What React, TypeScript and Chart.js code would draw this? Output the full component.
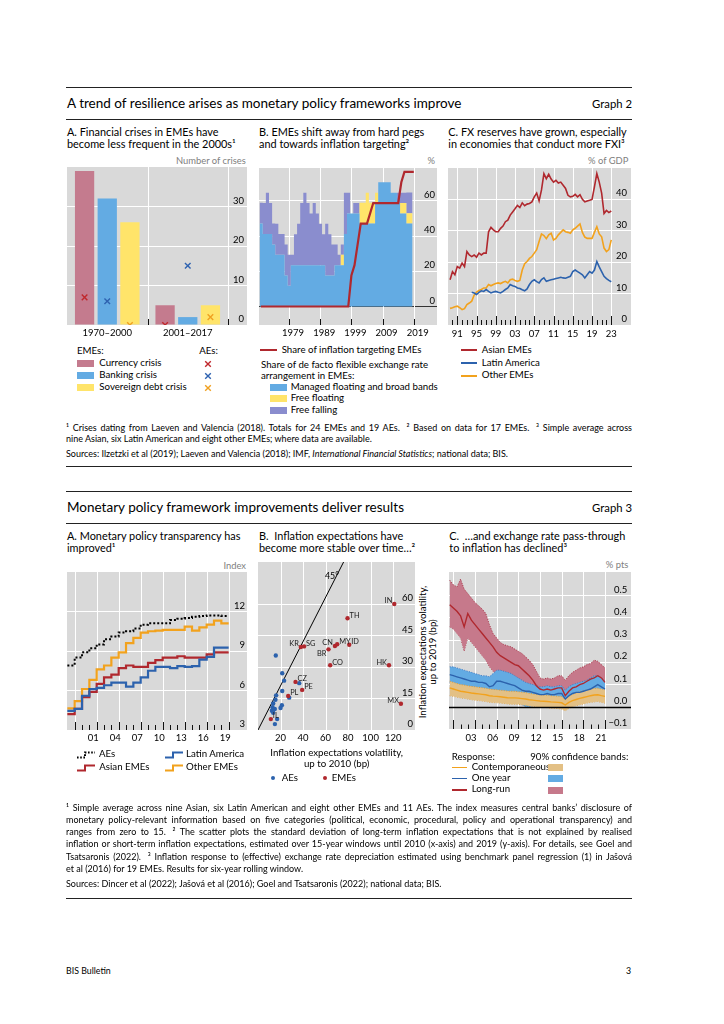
import React, { useEffect, useRef } from 'react';
import { Chart, registerables } from 'chart.js';

Chart.register(...registerables);

const FONT = 'Lato, "Noto Sans", sans-serif';
Chart.defaults.font.family = FONT;
const TICK_FONT = { family: FONT, size: 9.5, lineHeight: 1.2 };

const C_BG = '#d9d9d9';
const C_RED = '#b0282e';
const C_BLUE = '#2c62ad';
const C_ORANGE = '#f2a21d';
const C_PINK = '#c47b8e';
const C_LBLUE = '#63abe3';
const C_YELLOW = '#ffe46a';
const C_PURPLE = '#8a8dce';
const C_TAN = '#e3c085';
const C_BAND_RED = '#c6798b';
const CLEAR = 'rgba(0,0,0,0)';

// ---------------- Graph 2, panel A ----------------
const crisisPeriods = ['1970–2000', '2001–2017'];
const emeCurrency = [39, 5];
const emeBanking = [32, 2];
const emeSovereign = [26, 5];
const aeCurrency = [7, 0];
const aeBanking = [6, 15];
const aeSovereign = [0, 2];
const crisisTicks = [0, 10, 20, 30];

// ---------------- Graph 2, panel B ----------------
const regimeYears = [1970, 1971, 1972, 1973, 1974, 1975, 1976, 1977, 1978, 1979, 1980, 1981, 1982, 1983, 1984, 1985, 1986, 1987, 1988, 1989, 1990, 1991, 1992, 1993, 1994, 1995, 1996, 1997, 1998, 1999, 2000, 2001, 2002, 2003, 2004, 2005, 2006, 2007, 2008, 2009, 2010, 2011, 2012, 2013, 2014, 2015, 2016, 2017, 2018];
const managedFloating = [47.1, 41.2, 41.2, 41.2, 35.3, 29.4, 29.4, 29.4, 17.6, 11.8, 23.5, 23.5, 23.5, 23.5, 23.5, 23.5, 23.5, 23.5, 23.5, 23.5, 23.5, 17.6, 17.6, 17.6, 23.5, 23.5, 23.5, 41.2, 52.9, 52.9, 52.9, 52.9, 47.1, 47.1, 47.1, 47.1, 47.1, 58.8, 70.6, 70.6, 70.6, 70.6, 64.7, 64.7, 58.8, 52.9, 52.9, 47.1, 47.1];
const freeFloating = [0, 0, 0, 0, 0, 0, 0, 0, 0, 0, 0, 0, 0, 0, 0, 0, 0, 0, 0, 0, 0, 0, 0, 0, 0, 0, 5.9, 0, 0, 0, 0, 0, 11.8, 11.8, 17.6, 11.8, 11.8, 5.9, 0, 0, 0, 0, 0, 0, 0, 5.9, 5.9, 5.9, 5.9];
const freeFalling = [11.8, 17.6, 23.5, 17.6, 11.8, 17.6, 11.8, 11.8, 17.6, 17.6, 5.9, 17.6, 23.5, 35.3, 41.2, 35.3, 29.4, 35.3, 29.4, 23.5, 17.6, 29.4, 23.5, 17.6, 11.8, 5.9, 5.9, 23.5, 11.8, 0, 5.9, 5.9, 0, 0, 0, 0, 0, 0, 0, 0, 0, 0, 0, 0, 5.9, 5.9, 5.9, 11.8, 11.8];
const itYears = [1970, 1971, 1972, 1973, 1974, 1975, 1976, 1977, 1978, 1979, 1980, 1981, 1982, 1983, 1984, 1985, 1986, 1987, 1988, 1989, 1990, 1991, 1992, 1993, 1994, 1995, 1996, 1997, 1998, 1999, 2000, 2001, 2002, 2003, 2004, 2005, 2006, 2007, 2008, 2009, 2010, 2011, 2012, 2013, 2014, 2015, 2016, 2017, 2018, 2019];
const itShare = [0, 0, 0, 0, 0, 0, 0, 0, 0, 0, 0, 0, 0, 0, 0, 0, 0, 0, 0, 0, 0, 0, 0, 0, 0, 0, 0, 0, 0, 17.6, 23.5, 35.3, 47.1, 47.1, 47.1, 52.9, 58.8, 58.8, 58.8, 58.8, 58.8, 58.8, 58.8, 58.8, 58.8, 70.6, 76.5, 76.5, 76.5, 76.5];
const regimeTickYears = [1979, 1989, 1999, 2009, 2019];
const regimeTickLabels = ['1979', '1989', '1999', '2009', '2019'];
const pctTicks = [0, 20, 40, 60];

// ---------------- Graph 2, panel C ----------------
const fxDates = [1989.5, 1990, 1990.5, 1991, 1991.5, 1992, 1992.5, 1993, 1993.5, 1994, 1994.5, 1995, 1995.5, 1996, 1996.5, 1997, 1997.5, 1998, 1998.5, 1999, 1999.5, 2000, 2000.5, 2001, 2001.5, 2002, 2002.5, 2003, 2003.5, 2004, 2004.5, 2005, 2005.5, 2006, 2006.5, 2007, 2007.5, 2008, 2008.5, 2009, 2009.5, 2010, 2010.5, 2011, 2011.5, 2012, 2012.5, 2013, 2013.5, 2014, 2014.5, 2015, 2015.5, 2016, 2016.5, 2017, 2017.5, 2018, 2018.5, 2019, 2019.5, 2020, 2020.5, 2021, 2021.5, 2022, 2022.5, 2023];
const asianEMEs = [14.4, 17.0, 16.0, 18.6, 18.1, 19.7, 18.6, 23.4, 22.3, 21.8, 22.3, 21.6, 22.9, 22.3, 22.9, 22.9, 29.7, 31.1, 30.3, 29.7, 29.7, 30.8, 31.5, 32.9, 33.4, 35.0, 36.0, 37.0, 38.1, 37.4, 38.9, 38.0, 38.5, 38.7, 39.2, 40.8, 42.0, 39.5, 43.0, 48.2, 46.6, 48.0, 46.5, 45.5, 46.1, 45.2, 45.5, 44.5, 43.5, 41.3, 40.8, 41.0, 41.6, 40.8, 41.5, 40.0, 39.2, 39.5, 39.7, 40.0, 44.0, 48.2, 45.5, 42.0, 35.5, 36.5, 35.8, 36.3];
const latinAmerica = [null, null, null, null, null, null, null, null, null, 10.4, 10.2, 9.7, 10.4, 10.9, 10.7, 11.3, 10.7, 10.2, 10.5, 10.7, 10.4, 10.2, 10.7, 11.3, 11.8, 12.9, 12.5, 12.3, 11.8, 11.6, 11.2, 10.9, 11.5, 12.9, 13.9, 14.4, 13.8, 13.4, 14.5, 15.0, 13.9, 14.2, 14.4, 14.6, 14.8, 15.0, 15.2, 15.0, 14.9, 15.2, 15.5, 17.0, 17.5, 17.0, 16.5, 16.0, 15.0, 16.0, 17.0, 16.5, 17.5, 20.2, 18.5, 17.0, 15.5, 14.8, 14.2, 13.8];
const otherEMEs = [5.3, 5.5, 5.8, 6.0, 5.5, 4.9, 5.2, 6.5, 7.0, 7.6, 9.5, 10.5, 11.0, 11.3, 11.8, 11.8, 12.9, 12.5, 12.9, 13.2, 13.4, 13.2, 13.6, 13.9, 13.4, 14.4, 14.6, 14.2, 13.9, 14.2, 17.5, 19.5, 20.2, 21.2, 21.8, 22.9, 24.0, 26.6, 29.0, 28.5, 27.5, 28.7, 29.2, 27.1, 27.6, 28.7, 29.5, 30.3, 29.7, 29.5, 29.2, 30.3, 30.8, 31.5, 32.2, 29.5, 28.0, 27.6, 27.6, 27.6, 29.5, 31.3, 29.0, 28.1, 24.5, 23.4, 24.0, 27.1];
const fxLabelYears = [1991, 1995, 1999, 2003, 2007, 2011, 2015, 2019, 2023];
const fxLabels = ['91', '95', '99', '03', '07', '11', '15', '19', '23'];
const fxTicks = [0, 10, 20, 30, 40];

// ---------------- Graph 3, panel A ----------------
const tpYears = [1997, 1998, 1999, 2000, 2001, 2002, 2003, 2004, 2005, 2006, 2007, 2008, 2009, 2010, 2011, 2012, 2013, 2014, 2015, 2016, 2017, 2018];
const aesIndex = [7.9, 8.5, 8.9, 9.2, 9.5, 9.9, 10.1, 10.4, 10.5, 10.7, 11.0, 11.1, 11.1, 11.1, 11.35, 11.45, 11.5, 11.6, 11.65, 11.7, 11.7, 11.65];
const asianIndex = [4.2, 4.6, 5.5, 5.9, 6.5, 7.0, 7.2, 7.7, 7.9, 7.8, 7.8, 8.1, 8.3, 8.5, 8.5, 8.6, 8.5, 8.5, 8.5, 8.75, 8.9, 8.9];
const latamIndex = [4.45, 4.6, 5.6, 6.1, 6.2, 6.4, 6.6, 6.6, 6.3, 6.6, 7.0, 7.5, 7.8, 7.8, 7.7, 7.85, 7.8, 7.85, 8.35, 8.55, 9.25, 9.25];
const otherIndex = [4.65, 5.2, 6.1, 6.8, 7.6, 7.9, 8.5, 8.9, 9.6, 10.0, 10.4, 10.5, 10.55, 10.6, 10.6, 10.6, 10.85, 10.55, 10.8, 11.0, 11.3, 11.1];
const tpMajorYears = [1998, 2001, 2004, 2007, 2010, 2013, 2016, 2019];
const tpLabelYears = [2001, 2004, 2007, 2010, 2013, 2016, 2019];
const tpLabels = ['01', '04', '07', '10', '13', '16', '19'];
const tpTicks = [3, 6, 9, 12];

// ---------------- Graph 3, panel B ----------------
const emeCodes = ['IN', 'TH', 'KR', 'SG', 'CN', 'MY', 'ID', 'BR', 'CO', 'HK', 'CZ', 'PE', 'PL', 'MX', 'IL'];
const emeVol2010 = [121, 79.5, 38, 40.9, 68.3, 70.3, 81, 62.6, 64.1, 116.3, 33.3, 39.2, 26.8, 126.9, 11.4];
const emeVol2019 = [60, 53.2, 39.5, 39.8, 40, 40.8, 40.6, 38.4, 30.8, 30.8, 22.9, 19.1, 16.2, 12.5, 5.2];
const aeVol2010 = [15.8, 21.5, 23.2, 36.6, 21.5, 16.1, 15.5, 27.7, 21.2, 20, 13.5, 12.9, 12.3, 14.9, 13.5, 17.0, 15];
const aeVol2019 = [35.5, 27.0, 23.5, 22.3, 18.6, 16.5, 14.4, 15.4, 11.8, 10.5, 12.6, 10.8, 9.2, 10, 8.2, 5.2, 2.8];
const diagX = [0, 76];
const diagY = [0, 80];
const volXTicks = [20, 40, 60, 80, 100, 120];
const volXLabels = ['20', '40', '60', '80', '100', '120'];
const volYTicks = [0, 15, 30, 45, 60];

// ---------------- Graph 3, panel C ----------------
const ptDates = [1999.5, 2000, 2000.5, 2001, 2001.5, 2002, 2002.5, 2003, 2003.5, 2004, 2004.5, 2005, 2005.5, 2006, 2006.5, 2007, 2007.5, 2008, 2008.5, 2009, 2009.5, 2010, 2010.5, 2011, 2011.5, 2012, 2012.5, 2013, 2013.5, 2014, 2014.5, 2015, 2015.5, 2016, 2016.5, 2017, 2017.5, 2018, 2018.5, 2019, 2019.5, 2020, 2020.5, 2021];
const longRun = [0.46, 0.445, 0.43, 0.41, 0.36, 0.42, 0.39, 0.37, 0.35, 0.33, 0.31, 0.29, 0.27, 0.245, 0.23, 0.22, 0.21, 0.20, 0.19, 0.185, 0.17, 0.155, 0.14, 0.12, 0.095, 0.08, 0.075, 0.08, 0.075, 0.08, 0.085, 0.085, 0.05, 0.07, 0.085, 0.09, 0.10, 0.105, 0.115, 0.125, 0.13, 0.14, 0.13, 0.11];
const longRunHi = [0.57, 0.55, 0.54, 0.575, 0.53, 0.51, 0.49, 0.47, 0.455, 0.44, 0.42, 0.37, 0.33, 0.31, 0.29, 0.28, 0.275, 0.27, 0.26, 0.25, 0.24, 0.225, 0.21, 0.19, 0.16, 0.13, 0.125, 0.13, 0.125, 0.13, 0.14, 0.14, 0.12, 0.14, 0.155, 0.165, 0.175, 0.18, 0.19, 0.195, 0.21, 0.205, 0.19, 0.175];
const longRunLo = [0.36, 0.35, 0.33, 0.31, 0.25, 0.31, 0.29, 0.27, 0.25, 0.23, 0.21, 0.18, 0.16, 0.14, 0.13, 0.12, 0.12, 0.11, 0.10, 0.10, 0.09, 0.08, 0.07, 0.06, 0.05, 0.035, 0.03, 0.035, 0.03, 0.03, 0.03, 0.03, 0.005, 0.02, 0.03, 0.035, 0.04, 0.045, 0.05, 0.055, 0.06, 0.07, 0.065, 0.05];
const oneYear = [0.145, 0.14, 0.135, 0.13, 0.125, 0.12, 0.115, 0.115, 0.11, 0.11, 0.105, 0.09, 0.095, 0.115, 0.115, 0.11, 0.105, 0.10, 0.095, 0.085, 0.075, 0.07, 0.07, 0.065, 0.06, 0.055, 0.055, 0.06, 0.055, 0.055, 0.06, 0.06, 0.035, 0.05, 0.06, 0.065, 0.065, 0.07, 0.075, 0.08, 0.09, 0.1, 0.09, 0.08];
const oneYearHi = [0.18, 0.18, 0.175, 0.17, 0.165, 0.16, 0.155, 0.15, 0.145, 0.14, 0.14, 0.135, 0.15, 0.165, 0.165, 0.16, 0.155, 0.15, 0.14, 0.13, 0.12, 0.11, 0.105, 0.10, 0.095, 0.09, 0.09, 0.095, 0.09, 0.09, 0.095, 0.095, 0.075, 0.09, 0.10, 0.105, 0.11, 0.115, 0.12, 0.13, 0.14, 0.14, 0.13, 0.115];
const oneYearLo = [0.11, 0.105, 0.1, 0.095, 0.09, 0.085, 0.08, 0.075, 0.07, 0.065, 0.06, 0.045, 0.045, 0.06, 0.06, 0.055, 0.05, 0.04, 0.03, 0.02, 0.01, 0.0, 0.0, 0.005, 0.01, 0.015, 0.02, 0.025, 0.02, 0.02, 0.025, 0.025, 0.0, 0.005, 0.015, 0.02, 0.025, 0.025, 0.03, 0.035, 0.035, 0.04, 0.035, 0.025];
const contemp = [0.085, 0.08, 0.075, 0.07, 0.068, 0.065, 0.062, 0.06, 0.058, 0.056, 0.054, 0.05, 0.048, 0.047, 0.045, 0.043, 0.041, 0.04, 0.04, 0.039, 0.037, 0.035, 0.032, 0.03, 0.028, 0.026, 0.025, 0.024, 0.022, 0.021, 0.02, 0.018, 0.008, 0.02, 0.028, 0.033, 0.038, 0.042, 0.046, 0.05, 0.053, 0.054, 0.05, 0.047];
const contempHi = [0.115, 0.11, 0.105, 0.1, 0.098, 0.095, 0.092, 0.09, 0.088, 0.086, 0.084, 0.08, 0.078, 0.077, 0.075, 0.073, 0.071, 0.07, 0.07, 0.068, 0.066, 0.064, 0.061, 0.058, 0.056, 0.054, 0.053, 0.052, 0.05, 0.049, 0.048, 0.046, 0.033, 0.047, 0.056, 0.062, 0.068, 0.072, 0.076, 0.08, 0.083, 0.084, 0.08, 0.077];
const contempLo = [0.05, 0.047, 0.044, 0.04, 0.038, 0.035, 0.032, 0.03, 0.028, 0.026, 0.024, 0.02, 0.019, 0.018, 0.017, 0.015, 0.013, 0.012, 0.012, 0.011, 0.009, 0.007, 0.004, 0.002, 0.0, -0.002, -0.003, -0.004, -0.006, -0.007, -0.008, -0.01, -0.018, -0.007, 0.0, 0.005, 0.009, 0.013, 0.017, 0.02, 0.022, 0.024, 0.02, 0.017];
const ptMajorYears = [2000, 2003, 2006, 2009, 2012, 2015, 2018, 2021];
const ptLabelYears = [2003, 2006, 2009, 2012, 2015, 2018, 2021];
const ptLabels = ['03', '06', '09', '12', '15', '18', '21'];
const ptTicks = [-0.1, 0, 0.1, 0.2, 0.3, 0.4, 0.5];

// ---------------- helpers ----------------
const base = () => ({
  responsive: false,
  maintainAspectRatio: false,
  animation: false,
  events: [],
  layout: { padding: 0, autoPadding: false },
  plugins: { legend: { display: false }, tooltip: { enabled: false } },
});

function xLin(min: number, max: number, vals: number[], labels: string[], h: number, pad: number, off = 0) {
  return {
    type: 'linear', position: 'bottom', min, max, offset: false,
    afterBuildTicks: (s: any) => { s.ticks = vals.map((v) => ({ value: v })); },
    afterFit: (s: any) => { s.height = h; s.paddingLeft = 0; s.paddingRight = 0; },
    grid: { display: false, drawTicks: false },
    border: { display: false },
    ticks: { padding: pad, labelOffset: off, maxRotation: 0, minRotation: 0, autoSkip: false, color: '#000', font: TICK_FONT, callback: (_v: any, i: number) => labels[i] },
  };
}

// y axis on the right, labels drawn inside the grey area, right-aligned `pad` px from its right edge
function yLin(min: number, max: number, vals: number[], pad: number, fmt: (v: number) => string = (v) => String(v), gridCol?: (v: number) => string) {
  const gc = gridCol || ((v: number) => (v === min ? CLEAR : '#fff'));
  return {
    type: 'linear', position: 'right', min, max,
    afterBuildTicks: (s: any) => { s.ticks = vals.map((v) => ({ value: v })); },
    afterFit: (s: any) => { s.width = 0; s.paddingTop = 0; s.paddingBottom = 0; },
    grid: { color: (c: any) => (c.tick ? gc(c.tick.value) : CLEAR), lineWidth: 1, drawTicks: false },
    border: { display: false },
    ticks: { mirror: true, crossAlign: 'near', padding: -pad, labelOffset: -6, color: '#000', font: TICK_FONT, autoSkip: false, callback: (v: any) => fmt(Number(v)) },
  };
}

function tickMarks(first: number, last: number, majors: number[], majorLen: number, minorLen: number) {
  const out: [number, number][] = [];
  for (let y = first; y <= last; y++) out.push([y, majors.indexOf(y) >= 0 ? majorLen : minorLen]);
  return out;
}

function extras(o: any) {
  return {
    id: 'bisExtras',
    beforeDraw(c: any) {
      const { ctx, chartArea: a } = c;
      ctx.save();
      ctx.fillStyle = C_BG;
      ctx.fillRect(a.left, a.top, a.right - a.left, a.bottom - a.top);
      ctx.restore();
    },
    beforeDatasetsDraw(c: any) {
      const { ctx, chartArea: a } = c;
      const xs = c.scales.x;
      ctx.save();
      ctx.strokeStyle = '#fff';
      ctx.lineWidth = 1;
      (o.vGrid || []).forEach((v: number) => {
        const px = Math.round(xs.getPixelForValue(v)) + 0.5;
        ctx.beginPath(); ctx.moveTo(px, a.top); ctx.lineTo(px, a.bottom); ctx.stroke();
      });
      ctx.restore();
    },
    afterDatasetsDraw(c: any) {
      const { ctx, chartArea: a } = c;
      const xs = c.scales.x;
      ctx.save();
      if (o.zeroTop) {
        const py = Math.round(c.scales.y.getPixelForValue(0)) + 0.5;
        ctx.strokeStyle = '#000'; ctx.lineWidth = 1.4;
        ctx.beginPath(); ctx.moveTo(a.left, py); ctx.lineTo(a.right, py); ctx.stroke();
      }
      ctx.strokeStyle = '#111'; ctx.lineWidth = 1;
      (o.marks || []).forEach(([v, len]: [number, number]) => {
        const px = Math.round(xs.getPixelForValue(v)) + 0.5;
        ctx.beginPath(); ctx.moveTo(px, a.bottom); ctx.lineTo(px, a.bottom - len); ctx.stroke();
      });
      ctx.restore();
      if (o.after) o.after(c);
    },
  };
}

// ---------------- chart configs ----------------
const aeSets = [aeCurrency, aeBanking, aeSovereign];
const aeColors = ['#c0282d', '#2e62b0', '#f0a020'];

function drawAECrosses(c: any) {
  const { ctx, chartArea: a } = c;
  const ys = c.scales.y;
  ctx.save();
  ctx.beginPath(); ctx.rect(a.left, a.top, a.right - a.left, a.bottom - a.top); ctx.clip();
  aeSets.forEach((vals, i) => {
    const meta = c.getDatasetMeta(i);
    vals.forEach((v, j) => {
      const px = meta.data[j].x;
      const py = ys.getPixelForValue(v);
      const r = 2.8;
      ctx.strokeStyle = aeColors[i]; ctx.lineWidth = 1.4;
      ctx.beginPath();
      ctx.moveTo(px - r, py - r); ctx.lineTo(px + r, py + r);
      ctx.moveTo(px + r, py - r); ctx.lineTo(px - r, py + r);
      ctx.stroke();
    });
  });
  ctx.restore();
}

const makeA2 = () => {
  const bar = (vals: number[], col: string) => ({
    data: vals.map((v, i) => ({ x: i + 1, y: v })), backgroundColor: col, borderWidth: 0,
    categoryPercentage: 0.845, barPercentage: 0.85,
  });
  return {
    type: 'bar',
    data: { datasets: [bar(emeCurrency, C_PINK), bar(emeBanking, C_LBLUE), bar(emeSovereign, C_YELLOW)] },
    options: { ...base(), scales: { x: xLin(0.5, 2.736, [1, 2], crisisPeriods, 18, 2.6), y: yLin(0, 40, crisisTicks, 3) } },
    plugins: [extras({ vGrid: [1.5, 2.5], marks: [[1.5, 6], [2.5, 6]], after: drawAECrosses })],
  };
};

const makeB2 = () => {
  const lastYear = regimeYears[regimeYears.length - 1];
  const steps = (vals: number[]) => regimeYears.map((y, i) => ({ x: y - 0.4, y: vals[i] })).concat([{ x: lastYear + 0.6, y: vals[vals.length - 1] }]);
  const area = (vals: number[], col: string, fill: any) => ({
    data: steps(vals), stepped: true, fill, backgroundColor: col, borderColor: CLEAR, borderWidth: 0, pointRadius: 0, stack: 'fx',
  });
  const y = { ...yLin(-10.5, 78.7, pctTicks, 2, (v) => String(v), (v) => (v === 0 ? '#333' : '#fff')), stacked: true };
  return {
    type: 'line',
    data: {
      datasets: [
        { data: itYears.map((yr, i) => ({ x: yr, y: itShare[i] })), borderColor: C_RED, borderWidth: 2.2, pointRadius: 0, fill: false, stack: 'it' },
        area(managedFloating, C_LBLUE, 'origin'),
        area(freeFloating, C_YELLOW, '-1'),
        area(freeFalling, C_PURPLE, '-1'),
      ],
    },
    options: { ...base(), scales: { x: xLin(1969.4, 2026.43, regimeTickYears, regimeTickLabels, 18, 2.6, 4), y } },
    plugins: [extras({ vGrid: regimeTickYears, marks: regimeTickYears.map((v) => [v, 6]) })],
  };
};

const makeC2 = () => {
  const ser = (vals: (number | null)[], col: string) => ({
    data: fxDates.map((d, i) => ({ x: d, y: vals[i] })), borderColor: col, borderWidth: 1.6, pointRadius: 0, fill: false,
  });
  return {
    type: 'line',
    data: { datasets: [ser(asianEMEs, C_RED), ser(latinAmerica, C_BLUE), ser(otherEMEs, C_ORANGE)] },
    options: { ...base(), scales: { x: xLin(1989.07, 2027.1, fxLabelYears, fxLabels, 18, 3.3, 0), y: yLin(0, 50, fxTicks, 4) } },
    plugins: [extras({ vGrid: fxLabelYears, marks: tickMarks(1990, 2023, fxLabelYears, 9, 5) })],
  };
};

const makeA3 = () => {
  const lastYear = tpYears[tpYears.length - 1];
  const step = (vals: number[], col: string, dash: number[] = [], w = 2.2) => ({
    data: tpYears.map((y, i) => ({ x: y, y: vals[i] })).concat([{ x: lastYear + 1, y: vals[vals.length - 1] }]),
    stepped: true, borderColor: col, borderWidth: w, borderDash: dash, pointRadius: 0, fill: false,
  });
  return {
    type: 'line',
    data: { datasets: [step(aesIndex, '#000', [2, 2], 2), step(latamIndex, C_BLUE), step(asianIndex, C_RED), step(otherIndex, C_ORANGE)] },
    options: { ...base(), scales: { x: xLin(1996.95, 2021.5, tpLabelYears, tpLabels, 18, 2.6, -3.5), y: yLin(3, 15, tpTicks, 2) } },
    plugins: [extras({ vGrid: tpMajorYears, marks: tickMarks(1998, 2019, tpMajorYears, 8, 5) })],
  };
};

const emeLabelLeft = ['IN', 'KR', 'CN', 'BR', 'HK', 'MX'];
function drawCodes(c: any) {
  const { ctx } = c;
  const meta = c.getDatasetMeta(0);
  ctx.save();
  ctx.font = `7.4px ${FONT}`;
  ctx.fillStyle = '#222';
  ctx.textBaseline = 'middle';
  emeCodes.forEach((code, j) => {
    const el = meta.data[j];
    const left = emeLabelLeft.indexOf(code) >= 0;
    ctx.textAlign = left ? 'right' : 'left';
    ctx.fillText(code, el.x + (left ? -2 : 2), el.y + (code === 'BR' ? 4.5 : -3));
  });
  ctx.restore();
}

const makeB3 = () => ({
  type: 'scatter',
  data: {
    datasets: [
      { data: emeVol2010.map((x, i) => ({ x, y: emeVol2019[i] })), backgroundColor: C_RED, borderWidth: 0, pointRadius: 2.2 },
      { data: aeVol2010.map((x, i) => ({ x, y: aeVol2019[i] })), backgroundColor: C_BLUE, borderWidth: 0, pointRadius: 2.2 },
      { type: 'line', data: diagX.map((x, i) => ({ x, y: diagY[i] })), borderColor: '#000', borderWidth: 1, pointRadius: 0, fill: false, showLine: true },
    ],
  },
  options: { ...base(), scales: { x: xLin(0, 139.4, volXTicks, volXLabels, 18, 2.6, 0), y: yLin(0, 80, volYTicks, 2) } },
  plugins: [extras({ vGrid: volXTicks, after: drawCodes })],
});

const makeC3 = () => {
  const ser = (vals: number[]) => ptDates.map((d, i) => ({ x: d, y: vals[i] }));
  const line = (vals: number[], col: string) => ({ data: ser(vals), borderColor: col, borderWidth: 1.4, pointRadius: 0, fill: false });
  const edge = (vals: number[], edgeCol: string, fillCol?: string) => ({
    data: ser(vals), borderColor: edgeCol, borderWidth: 0.9, borderDash: [1, 1.5], pointRadius: 0,
    fill: fillCol ? '+1' : false, backgroundColor: fillCol || CLEAR,
  });
  const fmt = (v: number) => (v < 0 ? '\u2212' + Math.abs(v).toFixed(1) : v.toFixed(1));
  return {
    type: 'line',
    data: {
      datasets: [
        line(contemp, C_ORANGE),
        line(oneYear, C_BLUE),
        line(longRun, C_RED),
        edge(contempHi, '#e0962a', C_TAN),
        edge(contempLo, '#e0962a'),
        edge(oneYearHi, '#3d74bf', C_LBLUE),
        edge(oneYearLo, '#3d74bf'),
        edge(longRunHi, '#a3283a', C_BAND_RED),
        edge(longRunLo, '#a3283a'),
      ],
    },
    options: { ...base(), scales: { x: xLin(1999.4, 2024.6, ptLabelYears, ptLabels, 18, 3.6, -4), y: yLin(-0.1, 0.607, ptTicks, 3.7, fmt, (v) => (v === -0.1 || v === 0 ? CLEAR : '#fff')) } },
    plugins: [extras({ vGrid: ptMajorYears, marks: tickMarks(2000, 2021, ptMajorYears, 9, 4.5), zeroTop: true })],
  };
};

// ---------------- HTML pieces ----------------
const S_TITLE = 13.5;
const S_GRAPH = 11.3;
const S_PT = 10.9;
const S_LEG = 9.7;
const S_UNIT = 9.4;
const S_FOOT = 9.0;

function ChartBox({ x, y, w, h, make }: { x: number; y: number; w: number; h: number; make: () => any }) {
  const ref = useRef<HTMLCanvasElement>(null);
  useEffect(() => {
    const chart = new Chart(ref.current as HTMLCanvasElement, make());
    return () => chart.destroy();
  }, []);
  return <canvas ref={ref} width={w} height={h} style={{ position: 'absolute', left: x, top: y, width: w, height: h }} />;
}

function T({ x, y, s = S_LEG, c = '#000', a = 'l', children, style }: any) {
  const st: any = { position: 'absolute', top: y - 0.68 * s, fontSize: s, lineHeight: `${1.2 * s}px`, whiteSpace: 'nowrap', color: c, ...style };
  if (a === 'l') st.left = x;
  else if (a === 'r') st.right = 724 - x;
  else { st.left = x; st.transform = 'translateX(-50%)'; }
  return <div style={st}>{children}</div>;
}

function J({ y, children }: any) {
  return (
    <div style={{ position: 'absolute', left: 66, width: 566, top: y - 0.68 * S_FOOT, fontSize: S_FOOT, lineHeight: `${1.2 * S_FOOT}px`, whiteSpace: 'nowrap', textAlign: 'justify', textAlignLast: 'justify' as any }}>
      {children}
    </div>
  );
}

const Box = ({ x, y, w, h, c }: any) => <div style={{ position: 'absolute', left: x, top: y - h / 2, width: w, height: h, background: c }} />;
const Rule = ({ y }: any) => <div style={{ position: 'absolute', left: 66, top: y - 0.5, width: 566, height: 1, background: '#222' }} />;

const Cross = ({ x, y, c }: any) => (
  <svg style={{ position: 'absolute', left: x - 4, top: y - 4 }} width={8} height={8}>
    <path d="M1.2,1.2 L6.8,6.8 M6.8,1.2 L1.2,6.8" stroke={c} strokeWidth={1.4} />
  </svg>
);

const StepSw = ({ x, y, c, dash }: any) => (
  <svg style={{ position: 'absolute', left: x, top: y - 5 }} width={18} height={10}>
    <polyline points="0,7.5 8,7.5 8,2.5 18,2.5" fill="none" stroke={c} strokeWidth={2} strokeDasharray={dash} />
  </svg>
);

const Dot = ({ x, y, c }: any) => <div style={{ position: 'absolute', left: x - 2, top: y - 2, width: 4, height: 4, borderRadius: 2, background: c }} />;

export default function App() {
  return (
    <div style={{ position: 'absolute', left: 0, top: 0, width: 724, height: 1024, background: '#fff', fontFamily: FONT, color: '#000', overflow: 'hidden' }}>
      {/* ================= Graph 2 ================= */}
      <Rule y={87} />
      <T x={67} y={104.3} s={S_TITLE}>A trend of resilience arises as monetary policy frameworks improve</T>
      <T x={632} y={104.5} s={S_GRAPH} a="r">Graph 2</T>
      <Rule y={119} />

      <T x={67} y={132.8} s={S_PT}>A. Financial crises in EMEs have</T>
      <T x={67} y={144} s={S_PT}>become less frequent in the 2000s¹</T>
      <T x={259} y={132.8} s={S_PT}>B. EMEs shift away from hard pegs</T>
      <T x={259} y={144} s={S_PT}>and towards inflation targeting²</T>
      <T x={448.3} y={132.8} s={S_PT}>C. FX reserves have grown, especially</T>
      <T x={448.3} y={144} s={S_PT}>in economies that conduct more FXI³</T>

      <T x={245.7} y={161.7} s={S_UNIT} c="#808080" a="r">Number of crises</T>
      <T x={435} y={161.7} s={S_UNIT} c="#808080" a="r">%</T>
      <T x={628.3} y={161.7} s={S_UNIT} c="#808080" a="r">% of GDP</T>

      <ChartBox x={67} y={167} w={180} h={176} make={makeA2} />
      <ChartBox x={259} y={168} w={178} h={175} make={makeB2} />
      <ChartBox x={448} y={168} w={183} h={175} make={makeC2} />

      {/* legend A */}
      <T x={77} y={351.7}>EMEs:</T>
      <T x={199.3} y={351.7}>AEs:</T>
      <Box x={77} y={363.5} w={17} h={7} c={C_PINK} />
      <T x={99.3} y={363.5}>Currency crisis</T>
      <Box x={77} y={375.7} w={17} h={7} c={C_LBLUE} />
      <T x={99.3} y={375.7}>Banking crisis</T>
      <Box x={77} y={387.7} w={17} h={7} c={C_YELLOW} />
      <T x={99.3} y={387.7}>Sovereign debt crisis</T>
      <Cross x={208.3} y={363.5} c={aeColors[0]} />
      <Cross x={208.3} y={375.7} c={aeColors[1]} />
      <Cross x={208.3} y={387.7} c={aeColors[2]} />

      {/* legend B */}
      <Box x={260} y={350.3} w={17} h={2.2} c={C_RED} />
      <T x={281.7} y={350.3}>Share of inflation targeting EMEs</T>
      <T x={261} y={366}>Share of de facto flexible exchange rate</T>
      <T x={261} y={376.7}>arrangement in EMEs:</T>
      <Box x={270} y={387.3} w={17} h={7} c={C_LBLUE} />
      <T x={290.7} y={387.3}>Managed floating and broad bands</T>
      <Box x={270} y={398.8} w={17} h={7} c={C_YELLOW} />
      <T x={290.7} y={398.8}>Free floating</T>
      <Box x={270} y={410.5} w={17} h={7} c={C_PURPLE} />
      <T x={290.7} y={410.5}>Free falling</T>

      {/* legend C */}
      <Box x={461} y={350.3} w={16} h={2} c={C_RED} />
      <T x={481.7} y={350.3}>Asian EMEs</T>
      <Box x={461} y={363.3} w={16} h={2} c={C_BLUE} />
      <T x={481.7} y={363.3}>Latin America</T>
      <Box x={461} y={376} w={16} h={2} c={C_ORANGE} />
      <T x={481.7} y={376}>Other EMEs</T>

      <J y={429}>¹ Crises dating from Laeven and Valencia (2018). Totals for 24 EMEs and 19 AEs.{'\u2003'}² Based on data for 17 EMEs.{'\u2003'}³ Simple average across</J>
      <T x={66} y={440.5} s={S_FOOT}>nine Asian, six Latin American and eight other EMEs; where data are available.</T>
      <T x={66} y={455.5} s={S_FOOT}>Sources: Ilzetzki et al (2019); Laeven and Valencia (2018); IMF, <i>International Financial Statistics</i>; national data; BIS.</T>
      <Rule y={466} />

      {/* ================= Graph 3 ================= */}
      <Rule y={491} />
      <T x={67} y={508.5} s={S_TITLE}>Monetary policy framework improvements deliver results</T>
      <T x={632} y={508.7} s={S_GRAPH} a="r">Graph 3</T>
      <Rule y={523} />

      <T x={67} y={536.7} s={S_PT}>A. Monetary policy transparency has</T>
      <T x={67} y={548.3} s={S_PT}>improved¹</T>
      <T x={259} y={536.7} s={S_PT}>B.{'\u00a0'} Inflation expectations have</T>
      <T x={259} y={548.3} s={S_PT}>become more stable over time…²</T>
      <T x={449.3} y={536.7} s={S_PT}>C.{'\u00a0'} …and exchange rate pass-through</T>
      <T x={449.3} y={548.3} s={S_PT}>to inflation has declined³</T>

      <T x={246} y={566} s={S_UNIT} c="#808080" a="r">Index</T>
      <T x={628.3} y={565.7} s={S_UNIT} c="#808080" a="r">% pts</T>

      <ChartBox x={67} y={572} w={180} h={176} make={makeA3} />
      <ChartBox x={258} y={562} w={157} h={186} make={makeB3} />
      <ChartBox x={449} y={572} w={182} h={175} make={makeC3} />

      <T x={325} y={577} s={8.8}>45°</T>
      <div style={{ position: 'absolute', left: 428, top: 651.7, transform: 'translate(-50%,-50%) rotate(-90deg)', fontSize: S_LEG, lineHeight: '9.6px', textAlign: 'center', whiteSpace: 'nowrap' }}>
        Inflation expectations volatility,<br />up to 2019 (bp)
      </div>

      {/* legend A */}
      <StepSw x={77} y={754.5} c="#000" dash="1.6 1.6" />
      <T x={99} y={754.5}>AEs</T>
      <StepSw x={165} y={754.5} c={C_BLUE} />
      <T x={186} y={754.5}>Latin America</T>
      <StepSw x={77} y={767.7} c={C_RED} />
      <T x={99.3} y={767.7}>Asian EMEs</T>
      <StepSw x={165} y={767.7} c={C_ORANGE} />
      <T x={186} y={767.7}>Other EMEs</T>

      {/* legend B */}
      <T x={336.7} y={753.3} a="c">Inflation expectations volatility,</T>
      <T x={336.7} y={765} a="c">up to 2010 (bp)</T>
      <Dot x={273.3} y={778.3} c={C_BLUE} />
      <T x={281.7} y={778.3}>AEs</T>
      <Dot x={325} y={778.3} c={C_RED} />
      <T x={331.7} y={778.3}>EMEs</T>

      {/* legend C */}
      <T x={451.7} y={757.3}>Response:</T>
      <T x={628.3} y={757.3} a="r">90% confidence bands:</T>
      <Box x={452} y={767.3} w={15} h={1.5} c={C_ORANGE} />
      <T x={471.7} y={767.3}>Contemporaneous</T>
      <Box x={548.3} y={767.3} w={15} h={7} c={C_TAN} />
      <Box x={452} y={778.6} w={15} h={1.5} c={C_BLUE} />
      <T x={471.7} y={778.6}>One year</T>
      <Box x={548.3} y={778.6} w={15} h={7} c={C_LBLUE} />
      <Box x={452} y={790} w={15} h={1.5} c={C_RED} />
      <T x={471.7} y={790}>Long-run</T>
      <Box x={548.3} y={790} w={15} h={7} c={C_BAND_RED} />

      <J y={809}>¹ Simple average across nine Asian, six Latin American and eight other EMEs and 11 AEs. The index measures central banks’ disclosure of</J>
      <J y={821.2}>monetary policy-relevant information based on five categories (political, economic, procedural, policy and operational transparency) and</J>
      <J y={833.4}>ranges from zero to 15.{'\u2003'}² The scatter plots the standard deviation of long-term inflation expectations that is not explained by realised</J>
      <J y={845.6}>inflation or short-term inflation expectations, estimated over 15-year windows until 2010 (x-axis) and 2019 (y-axis). For details, see Goel and</J>
      <J y={857.8}>Tsatsaronis (2022).{'\u2003'}³ Inflation response to (effective) exchange rate depreciation estimated using benchmark panel regression (1) in Jašová</J>
      <T x={66} y={870} s={S_FOOT}>et al (2016) for 19 EMEs. Results for six-year rolling window.</T>
      <T x={66} y={885.6} s={S_FOOT}>Sources: Dincer et al (2022); Jašová et al (2016); Goel and Tsatsaronis (2022); national data; BIS.</T>
      <Rule y={898} />

      <T x={66} y={972} s={8.8}>BIS Bulletin</T>
      <T x={631} y={972} s={8.8} a="r">3</T>
    </div>
  );
}
